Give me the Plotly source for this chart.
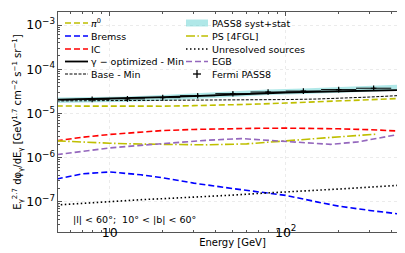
import numpy as np
import plotly.graph_objects as go

# ---- data (E^2.7 flux, GeV^1.7 cm^-2 s^-1 sr^-1) ----
E_model = [5, 7, 10, 15, 20, 30, 50, 70, 100, 150, 200, 300, 500]

pi0 = [1.47e-5, 1.46e-5, 1.45e-5, 1.45e-5, 1.46e-5, 1.5e-5, 1.56e-5, 1.63e-5, 1.72e-5, 1.84e-5, 1.93e-5, 2.05e-5, 2.22e-5]
brems = [3.3e-7, 4.3e-7, 4.75e-7, 4.1e-7, 3.5e-7, 2.65e-7, 2.0e-7, 1.7e-7, 1.4e-7, 1.0e-7, 8.0e-8, 6.4e-8, 5.0e-8]
ic = [2.4e-6, 2.9e-6, 3.35e-6, 3.8e-6, 4.1e-6, 4.35e-6, 4.55e-6, 4.62e-6, 4.65e-6, 4.6e-6, 4.5e-6, 4.3e-6, 3.9e-6]
gamma_opt = [2.05e-5, 2.1e-5, 2.17e-5, 2.26e-5, 2.33e-5, 2.47e-5, 2.7e-5, 2.85e-5, 2.98e-5, 3.1e-5, 3.18e-5, 3.28e-5, 3.4e-5]
base_min = [1.92e-5, 1.93e-5, 1.95e-5, 1.97e-5, 1.98e-5, 2.0e-5, 2.02e-5, 2.04e-5, 2.06e-5, 2.12e-5, 2.2e-5, 2.35e-5, 2.6e-5]
unres = [8.5e-8, 9.3e-8, 1.02e-7, 1.12e-7, 1.18e-7, 1.26e-7, 1.42e-7, 1.55e-7, 1.66e-7, 1.82e-7, 1.95e-7, 2.15e-7, 2.45e-7]

E_ps = [5, 7, 10, 15, 20, 36, 60, 100, 167, 250, 330]
ps = [2.4e-6, 2.25e-6, 2.12e-6, 2.03e-6, 1.98e-6, 1.95e-6, 2.05e-6, 2.35e-6, 2.8e-6, 3.15e-6, 3.4e-6]

E_egb = [5, 7, 10, 15, 20, 36, 56, 100, 180, 257, 350, 500]
egb = [1.17e-6, 1.4e-6, 1.66e-6, 1.9e-6, 2.08e-6, 2.48e-6, 2.7e-6, 2.35e-6, 2.0e-6, 2.27e-6, 2.8e-6, 3.7e-6]

E_fermi = [5.0, 7.94, 12.6, 20.0, 31.6, 50.1, 79.4, 126, 200, 316]
fermi = [2.03e-5, 2.08e-5, 2.14e-5, 2.28e-5, 2.52e-5, 2.8e-5, 3.05e-5, 3.2e-5, 3.46e-5, 3.72e-5]
fermi_err_frac = 0.06

E_band = [5.0, 7.94, 12.6, 20.0, 31.6, 50.1, 79.4, 126, 200, 316, 500]
band_lo = [1.72e-5, 1.77e-5, 1.83e-5, 1.95e-5, 2.15e-5, 2.4e-5, 2.62e-5, 2.75e-5, 2.95e-5, 3.15e-5, 3.35e-5]
band_hi = [2.3e-5, 2.36e-5, 2.43e-5, 2.6e-5, 2.87e-5, 3.2e-5, 3.5e-5, 3.68e-5, 3.98e-5, 4.25e-5, 4.55e-5]

region_text = "|l| < 60°;  10° < |b| < 60°"
x_title = "Energy [GeV]"
y_title = ("E<sub>γ</sub><sup>2.7</sup> dφ<sub>γ</sub>/dE<sub>γ</sub> [GeV<sup>1.7</sup> "
           "cm<sup>−2</sup> s<sup>−1</sup> sr<sup>−1</sup>]")

# ---- styles ----
FONT = "DejaVu Sans"
YEL = "#bfbf00"
DASH = "6px,3px"
DASHDOT = "9px,2.4px,1.5px,2.4px"
DOT = "1.5px,2.5px"
FINE = "3px,1.5px"
BAND = "rgba(80,205,205,0.45)"

fig = go.Figure()

def line(x, y, color, dash, width=1.6):
    fig.add_trace(go.Scatter(x=x, y=y, mode="lines", showlegend=False,
                             line=dict(color=color, dash=dash, width=width)))

fig.add_trace(go.Scatter(x=E_band, y=band_lo, mode="lines", line=dict(width=0),
                         showlegend=False, hoverinfo="skip"))
fig.add_trace(go.Scatter(x=E_band, y=band_hi, mode="lines", line=dict(width=0),
                         fill="tonexty", fillcolor=BAND, showlegend=False))
line(E_model, pi0, YEL, DASH)
line(E_model, brems, "#0000ff", DASH)
line(E_model, ic, "#ff0000", DASH)
line(E_ps, ps, YEL, DASHDOT)
line(E_model, unres, "#000000", DOT)
line(E_egb, egb, "#9467bd", DASH)
line(E_model, base_min, "#000000", FINE, width=1.0)
line(E_model, gamma_opt, "#000000", "solid", width=1.8)

Ef = np.array(E_fermi)
ff = np.array(fermi)
fig.add_trace(go.Scatter(
    x=E_fermi, y=fermi, mode="markers", showlegend=False,
    marker=dict(symbol="cross-thin", size=4, line=dict(color="black", width=1.2), color="black"),
    error_x=dict(type="data", symmetric=False, array=list(Ef * 10**0.1 - Ef),
                 arrayminus=list(Ef - Ef * 10**-0.1), width=0, color="black", thickness=1),
    error_y=dict(type="data", array=list(ff * fermi_err_frac), width=0, color="black", thickness=1.3),
))

# ---- manual two-column legend (pixel layout converted to paper coords) ----
L, R, T, B = 50, 399, 4, 224
def px(x):
    return (x - L) / (R - L)
def py(y):
    return (B - y) / (B - T)

shapes = []
annotations = []
row_y = [15, 28, 41, 53.5, 66]
col1 = [("<i>π</i><sup>0</sup>", YEL, DASH, 1.6), ("Bremss", "#0000ff", DASH, 1.6),
        ("IC", "#ff0000", DASH, 1.6), ("γ − optimized - Min", "#000000", "solid", 1.8),
        ("Base - Min", "#000000", FINE, 1.0)]
for (txt, c, d, w), yy in zip(col1, row_y):
    shapes.append(dict(type="line", xref="paper", yref="paper", x0=px(57), x1=px(80),
                       y0=py(yy), y1=py(yy), line=dict(color=c, dash=d, width=w)))
    annotations.append(dict(text=txt, xref="paper", yref="paper", x=px(81), y=py(yy),
                            xanchor="left", yanchor="middle", showarrow=False,
                            font=dict(family=FONT, size=9.5)))
col2 = ["PASS8 syst+stat", "PS [4FGL]", "Unresolved sources", "EGB", "Fermi PASS8"]
for txt, yy in zip(col2, row_y):
    annotations.append(dict(text=txt, xref="paper", yref="paper", x=px(202), y=py(yy),
                            xanchor="left", yanchor="middle", showarrow=False,
                            font=dict(family=FONT, size=9.5)))
shapes.append(dict(type="rect", xref="paper", yref="paper", x0=px(178), x1=px(200),
                   y0=py(row_y[0] + 3.5), y1=py(row_y[0] - 3.5), line=dict(width=0), fillcolor=BAND))
shapes.append(dict(type="line", xref="paper", yref="paper", x0=px(178), x1=px(200),
                   y0=py(row_y[1]), y1=py(row_y[1]), line=dict(color=YEL, dash=DASHDOT, width=1.6)))
shapes.append(dict(type="line", xref="paper", yref="paper", x0=px(178), x1=px(200),
                   y0=py(row_y[2]), y1=py(row_y[2]), line=dict(color="black", dash=DOT, width=1.6)))
shapes.append(dict(type="line", xref="paper", yref="paper", x0=px(178), x1=px(200),
                   y0=py(row_y[3]), y1=py(row_y[3]), line=dict(color="#9467bd", dash=DASH, width=1.6)))
shapes.append(dict(type="line", xref="paper", yref="paper", x0=px(185), x1=px(193),
                   y0=py(row_y[4]), y1=py(row_y[4]), line=dict(color="black", width=1.3)))
shapes.append(dict(type="line", xref="paper", yref="paper", x0=px(189), x1=px(189),
                   y0=py(row_y[4] - 4), y1=py(row_y[4] + 4), line=dict(color="black", width=1.3)))

annotations.append(dict(text=region_text, xref="paper", yref="paper", x=px(63), y=py(211),
                        xanchor="left", yanchor="middle", showarrow=False,
                        font=dict(family=FONT, size=9.5)))

axis_common = dict(
    type="log", showline=True, linecolor="#555", linewidth=1, mirror="allticks",
    ticks="inside", ticklen=4, tickcolor="#555", dtick=1, exponentformat="power",
    showgrid=True, gridcolor="rgba(0,0,0,0.08)", griddash="dot", gridwidth=1,
    zeroline=False, tickfont=dict(family=FONT, size=10, color="black"),
    minor=dict(ticks="inside", ticklen=2, tickcolor="#555", showgrid=False),
)

fig.update_layout(
    width=405, height=253,
    margin=dict(l=50, r=6, t=4, b=29),
    paper_bgcolor="white", plot_bgcolor="white",
    font=dict(family=FONT, size=10, color="black"),
    showlegend=False,
    xaxis=dict(axis_common, range=[np.log10(5.08), np.log10(489)], ticklabelstandoff=-11,
               title=dict(text=x_title, font=dict(size=10), standoff=0)),
    yaxis=dict(axis_common, range=[-7.682, -2.705],
               title=dict(text=y_title, font=dict(size=10), standoff=2)),
    shapes=shapes,
    annotations=annotations,
)

fig.write_html("out.html")
